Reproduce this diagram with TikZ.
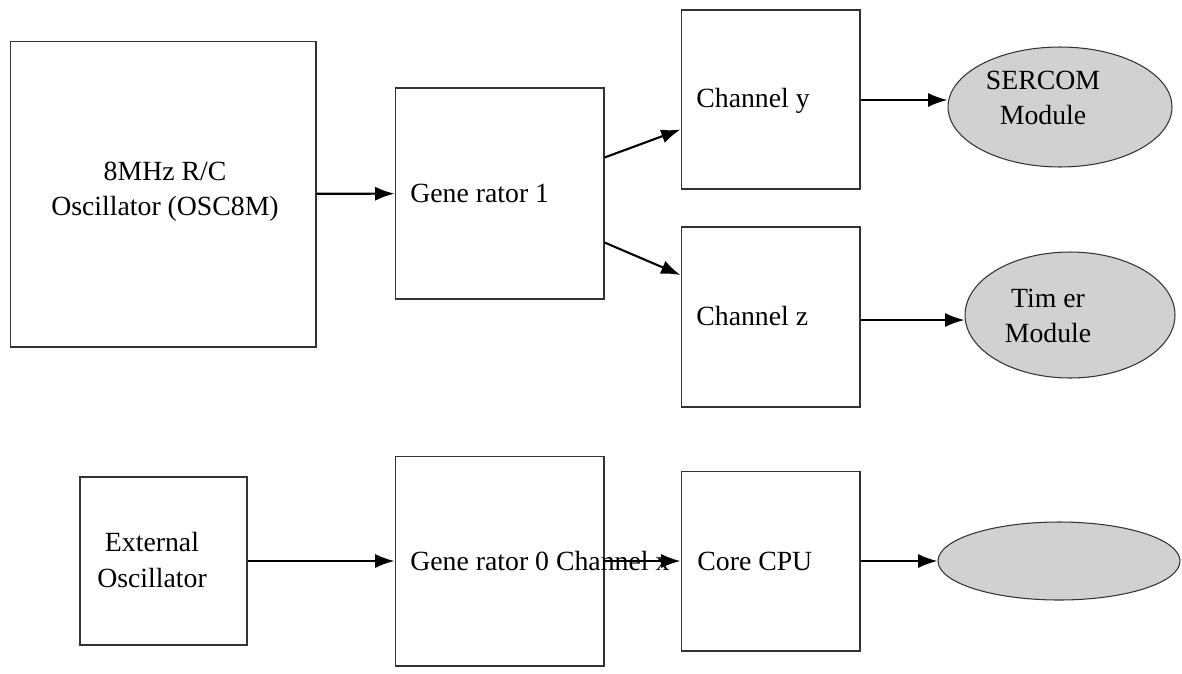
\documentclass[tikz,border=0pt]{standalone}
\usepackage{fontspec}
\setmainfont{Liberation Serif}
\usetikzlibrary{arrows.meta, shapes.geometric}
\begin{document}
\begin{tikzpicture}[x=0.02cm, y=-0.02cm,
    block/.style={draw=black!80, line width=0.6pt, rectangle},
    module/.style={draw=black!80, line width=0.6pt, ellipse, fill=black!18},
    txt/.style={font=\fontsize{15.8}{20}\selectfont, align=center, inner sep=0pt},
    flow/.style={-{Latex[length=11pt, width=8pt]}, line width=1.2pt}]
    \useasboundingbox (0,0) rectangle (1182,673);

    \node (osc8m) at (163,194)[block, minimum width=6.12cm, minimum height=6.12cm] {};
    \node (gen-one) at (499.5,193.5)[block, minimum width=4.18cm, minimum height=4.22cm] {};
    \node (chan-y) at (770.5,99.5)[block, minimum width=3.58cm, minimum height=3.58cm] {};
    \node (chan-z) at (770.5,317)[block, minimum width=3.58cm, minimum height=3.6cm] {};
    \node (ext-osc) at (163.5,561)[block, minimum width=3.34cm, minimum height=3.36cm] {};
    \node (gen-zero) at (499.5,561)[block, minimum width=4.18cm, minimum height=4.2cm] {};
    \node (core-cpu) at (770.5,561)[block, minimum width=3.58cm, minimum height=3.6cm] {};
    \node (sercom) at (1060,107)[module, minimum width=4.48cm, minimum height=2.4cm] {};
    \node (timer) at (1070,315)[module, minimum width=4.2cm, minimum height=2.52cm] {};
    \node (cpu-out) at (1059,561)[module, minimum width=4.84cm, minimum height=1.56cm] {};

    \node (osc8m-text) at (165,192)[txt] {8MHz R/C\\Oscillator (OSC8M)};
    \node (gen-one-text) at (410,193)[txt, anchor=west] {Gene rator 1};
    \node (chan-y-text) at (696,101)[txt, anchor=west] {Channel y};
    \node (chan-z-text) at (696,316)[txt, anchor=west] {Channel z};
    \node (sercom-text) at (1043,98)[txt] {SERCOM\\Module};
    \node (timer-text) at (1048,316)[txt] {Tim er\\Module};
    \node (ext-osc-text) at (152,560)[txt] {External\\Oscillator};
    \node (gen-zero-text) at (410,561)[txt, anchor=west] {Gene rator 0 Channel x};
    \node (core-cpu-text) at (697,561)[txt, anchor=west] {Core CPU};

    \draw[flow] (osc8m) -- (gen-one);
    \draw[flow] ([yshift=0.72cm]gen-one.east) -- ([yshift=-0.6cm]chan-y.west);
    \draw[flow] ([yshift=-0.98cm]gen-one.east) -- ([yshift=0.84cm]chan-z.west);
    \draw[flow] (chan-y.east |- 0,100) -- (sercom.west |- 0,100);
    \draw[flow] (chan-z.east |- 0,320) -- (timer.west |- 0,320);
    \draw[flow] (ext-osc) -- (gen-zero);
    \draw[flow] (gen-zero) -- (core-cpu);
    \draw[flow] (core-cpu) -- (cpu-out);
\end{tikzpicture}
\end{document}
